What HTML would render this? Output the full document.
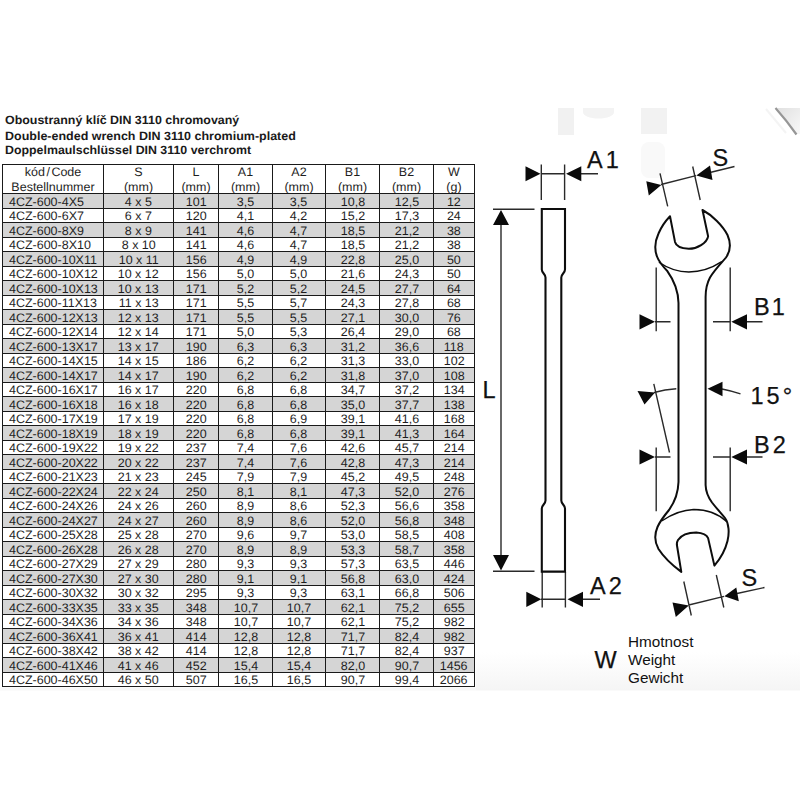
<!DOCTYPE html>
<html lang="cs">
<head>
<meta charset="utf-8">
<title>Oboustranný klíč DIN 3110 chromovaný</title>
<style>
html,body{margin:0;padding:0;background:#fff;}
body{width:800px;height:800px;overflow:hidden;position:relative;font-family:"Liberation Sans",sans-serif;color:#1c1c1c;}
.page{position:absolute;left:0;top:0;width:800px;height:800px;overflow:hidden;background:#fff;}
.diagram{position:absolute;left:0;top:0;width:800px;height:800px;}
.title{position:absolute;left:5px;top:113px;font-weight:bold;font-size:12px;line-height:15px;white-space:nowrap;color:#1a1a1a;text-rendering:geometricPrecision;}
.title div{transform-origin:0 0;transform:scaleX(1.036);height:15px;}
.title div:nth-child(2){transform:scaleX(1.041);position:relative;top:0.6px;}
.title div:nth-child(3){transform:scaleX(1.031);position:relative;top:0.2px;}
table.spec{position:absolute;left:2px;top:164.25px;border-collapse:collapse;table-layout:fixed;width:472px;font-size:12.3px;line-height:13.5px;color:#1e1e1e;text-rendering:geometricPrecision;}
table.spec th,table.spec td{border:1px solid #1a1a1a;padding:0;margin:0;font-weight:normal;text-align:center;white-space:nowrap;overflow:hidden;}
table.spec th{height:28px;vertical-align:top;}
table.spec th span{display:block;line-height:14px;transform:scaleX(1.015);}
table.spec th span:first-child{line-height:15px;}
table.spec th span:last-child{line-height:13px;position:relative;top:1.1px;}
table.spec td{height:13.5px;}
table.spec td span{display:inline-block;transform:scaleX(1.015);position:relative;top:1.5px;}
table.spec td:first-child span{transform-origin:0 50%;}
table.spec tr.g td{background:#d5d5d5;}
table.spec td:first-child{text-align:left;padding-left:6px;}
.c0{width:101px}.c1{width:70px}.c2{width:45px}.c3{width:54px}.c4{width:53px}.c5{width:54px}.c6{width:54px}.c7{width:41px}
table.spec th i{font-style:normal;margin:0 1.5px;}

</style>
</head>
<body>
<div class="page">
<svg class="diagram" width="800" height="800" viewBox="0 0 800 800" font-family="'Liberation Sans', sans-serif" fill="#111">
<defs>
<linearGradient id="fade" x1="0" y1="0" x2="0" y2="1"><stop offset="0" stop-color="#fff"/><stop offset="1" stop-color="#f5f5f5"/></linearGradient>
<linearGradient id="corner" x1="0" y1="0" x2="1" y2="1"><stop offset="0" stop-color="#e0e0e0"/><stop offset="1" stop-color="#f8f8f8"/></linearGradient>
</defs>
<g stroke="none">
<rect x="476" y="652" width="324" height="38.5" fill="url(#fade)"/>
<rect x="0" y="687.5" width="476" height="3" fill="#f8f8f8"/>
<rect x="558" y="108" width="16" height="27" fill="#f1f1f1"/>
<path d="M583,108H614V112C614,116 607,118.5 598.5,118.5C590,118.5 583,116 583,112Z" fill="#f3f3f3"/>
<rect x="641" y="108" width="26" height="26" fill="#f2f2f2"/>
<rect x="641" y="142" width="24" height="36" rx="8" fill="#f9f9f9"/>
<path d="M777,108H800V134H797.5Z" fill="url(#corner)"/>
<path d="M775.5,108Q787,121 796.5,134.5" stroke="#969696" stroke-width="2.2" fill="none" stroke-linecap="butt"/>
<path d="M766,109L786,133" stroke="#f4f4f4" stroke-width="2" fill="none"/>
</g>
<g fill="none" stroke="#2a2a2a" stroke-width="1.4">
<!-- A1 -->
<path d="M541.3,164.5V200 M564.6,164.5V200 M541,173.8H565 M580,173.8H598"/>
<!-- L -->
<path d="M493,209.3H534.5 M493,571.3H534.5 M501,224V556"/>
<!-- A2 -->
<path d="M542.2,572V607.5 M565.4,572V607.5 M541,599.3H566 M582,599.3H600"/>
<!-- S top -->
<path d="M660,173.3L667.7,206.3 M692.7,166.5L700.2,200 M661,184.5L696,175.6 M711,172.2L734.5,166.5"/>
<!-- B1 -->
<path d="M656.2,267.5V331.3 M730.2,267.5V331.3 M655,321.8H670.5 M713,321.8H730 M746,321.8H762.5"/>
<!-- B2 -->
<path d="M656.2,447.5V511.3 M730.2,447.5V511.3 M655,457H670.5 M713,457H730 M746,457H762.5"/>
<!-- 15 deg -->
<path d="M653.8,383.8L669.5,452.5 M654,392.5Q665,389.3 676.3,388.8 M722,389Q732,391 740.5,393.8"/>
<!-- S bottom -->
<path d="M683.8,581.5L691.3,615.5 M716.3,575L723.8,607.5 M688.8,605L724,596.4 M737,593.5L764.5,587.5"/>
</g>
<g fill="#0a0a0a" stroke="none">
<path d="M525.5,166.3V181.3L540.5,173.8Z M581.3,166.3V181.3L566,173.8Z"/>
<path d="M493,225H509L501,210Z M493,555H509L501,570.5Z"/>
<path d="M526.3,591.8V607L541.3,599.3Z M583,591.8V607L567.5,599.3Z"/>
<path d="M646.3,181.3L648.8,195.5L661.3,185Z M710,165.5L712.5,180L696.3,175.5Z"/>
<path d="M639.5,314.3V329.5L655,321.8Z M747,314.3V329.5L731.3,321.8Z"/>
<path d="M639.5,449.4V464.6L655,457Z M747,449.4V464.6L731.3,457Z"/>
<path d="M637.5,391L644.5,404.5L655,392.5Z M722.5,381.8V396.3L707.5,388.8Z"/>
<path d="M672.5,602.5L675.8,617L688.8,605.5Z M736.3,587.5L738.8,601.3L724.3,596.3Z"/>
</g>
<g fill="none" stroke="#0d0d0d" stroke-linejoin="round" stroke-linecap="round">
<!-- side view -->
<path stroke-width="2.1" stroke-linejoin="miter" d="M541.8,209H565V269.5C565,273 561.3,274 561.3,277.5V500.5C561.3,504 565,505 565,508.5V571.6H541.8V508.5C541.8,505 545.5,504 545.5,500.5V277.5C545.5,274 541.8,273 541.8,269.5Z"/>
<!-- front view -->
<path stroke-width="2" d="M670,216.3L675,241.9C676,246 682,248.3 688.8,248.8C697,248.8 707,243 708.1,236.3L702.5,210C712,215 723,226 727.5,235C731,243 730.5,251 726,257.5C723,261.5 716,268 710,277.5C706.5,284 705.6,290 705.6,297V485C705.8,492 708,497 712,502.5C717,509 722,514 725,518C729,523.5 729.5,533 727.5,541C725,551 721,558 714.4,565.6L708.1,538.1C707,535.5 703,533 696.3,532.5C688,532.5 681,535.5 678,540C676.8,542 676.8,544 676.9,545L681.3,571.9C672,565 663,556 658.5,549C654.5,542 654.5,534 657.5,527C660,521.5 664,516 669,510C674,503 678.2,493 678.5,482V303C678.3,293 675.2,282 667.5,271.3C663,266.5 659,262 657,256.5C654,248.5 655.5,240 658.5,233.5C661.5,226.5 666,220.5 670,216.3Z"/>
<path stroke-width="1.5" d="M659.4,262.5C668,268.5 678,271.9 688.8,271.9C701,271.9 712,268 721.3,261.9"/>
<path stroke-width="1.5" d="M662.5,520.5C672,514 682,509.8 693.8,509.4C706,509.4 717,512.5 726.3,521.3"/>
</g>
<g fill="#111" stroke="#111" stroke-width="0.25">
<text x="587" y="168" font-size="23.5" letter-spacing="3">A1</text>
<text x="590" y="593.8" font-size="23.5" letter-spacing="3">A2</text>
<text x="482.5" y="397.5" font-size="23.5">L</text>
<text x="712.5" y="165.5" font-size="23.5">S</text>
<text x="741.5" y="585.5" font-size="23.5">S</text>
<text x="754" y="314.8" font-size="23.5" letter-spacing="2">B1</text>
<text x="754" y="452.5" font-size="23.5" letter-spacing="3">B2</text>
<text x="750.5" y="403.8" font-size="23.5" letter-spacing="3">15°</text>
<text x="594.5" y="668" font-size="23.5">W</text>
<text x="628" y="646.5" font-size="15.3" stroke="none">Hmotnost</text>
<text x="628" y="665.2" font-size="15.3" stroke="none">Weight</text>
<text x="628" y="683.2" font-size="15.3" stroke="none">Gewicht</text>
</g>
</svg>
<div class="title">
<div>Oboustranný klíč DIN 3110 chromovaný</div>
<div>Double-ended wrench DIN 3110 chromium-plated</div>
<div>Doppelmaulschlüssel DIN 3110 verchromt</div>
</div>
<table class="spec">
<colgroup><col class="c0"><col class="c1"><col class="c2"><col class="c3"><col class="c4"><col class="c5"><col class="c6"><col class="c7"></colgroup>
<thead>
<tr><th><span>kód<i>/</i>Code</span><span>Bestellnummer</span></th><th><span>S</span><span>(mm)</span></th><th><span>L</span><span>(mm)</span></th><th><span>A1</span><span>(mm)</span></th><th><span>A2</span><span>(mm)</span></th><th><span>B1</span><span>(mm)</span></th><th><span>B2</span><span>(mm)</span></th><th><span>W</span><span>(g)</span></th></tr>
</thead>
<tbody>
<tr class="g"><td><span>4CZ-600-4X5</span></td><td><span>4 x 5</span></td><td><span>101</span></td><td><span>3,5</span></td><td><span>3,5</span></td><td><span>10,8</span></td><td><span>12,5</span></td><td><span>12</span></td></tr>
<tr class="w"><td><span>4CZ-600-6X7</span></td><td><span>6 x 7</span></td><td><span>120</span></td><td><span>4,1</span></td><td><span>4,2</span></td><td><span>15,2</span></td><td><span>17,3</span></td><td><span>24</span></td></tr>
<tr class="g"><td><span>4CZ-600-8X9</span></td><td><span>8 x 9</span></td><td><span>141</span></td><td><span>4,6</span></td><td><span>4,7</span></td><td><span>18,5</span></td><td><span>21,2</span></td><td><span>38</span></td></tr>
<tr class="w"><td><span>4CZ-600-8X10</span></td><td><span>8 x 10</span></td><td><span>141</span></td><td><span>4,6</span></td><td><span>4,7</span></td><td><span>18,5</span></td><td><span>21,2</span></td><td><span>38</span></td></tr>
<tr class="g"><td><span>4CZ-600-10X11</span></td><td><span>10 x 11</span></td><td><span>156</span></td><td><span>4,9</span></td><td><span>4,9</span></td><td><span>22,8</span></td><td><span>25,0</span></td><td><span>50</span></td></tr>
<tr class="w"><td><span>4CZ-600-10X12</span></td><td><span>10 x 12</span></td><td><span>156</span></td><td><span>5,0</span></td><td><span>5,0</span></td><td><span>21,6</span></td><td><span>24,3</span></td><td><span>50</span></td></tr>
<tr class="g"><td><span>4CZ-600-10X13</span></td><td><span>10 x 13</span></td><td><span>171</span></td><td><span>5,2</span></td><td><span>5,2</span></td><td><span>24,5</span></td><td><span>27,7</span></td><td><span>64</span></td></tr>
<tr class="w"><td><span>4CZ-600-11X13</span></td><td><span>11 x 13</span></td><td><span>171</span></td><td><span>5,5</span></td><td><span>5,7</span></td><td><span>24,3</span></td><td><span>27,8</span></td><td><span>68</span></td></tr>
<tr class="g"><td><span>4CZ-600-12X13</span></td><td><span>12 x 13</span></td><td><span>171</span></td><td><span>5,5</span></td><td><span>5,5</span></td><td><span>27,1</span></td><td><span>30,0</span></td><td><span>76</span></td></tr>
<tr class="w"><td><span>4CZ-600-12X14</span></td><td><span>12 x 14</span></td><td><span>171</span></td><td><span>5,0</span></td><td><span>5,3</span></td><td><span>26,4</span></td><td><span>29,0</span></td><td><span>68</span></td></tr>
<tr class="g"><td><span>4CZ-600-13X17</span></td><td><span>13 x 17</span></td><td><span>190</span></td><td><span>6,3</span></td><td><span>6,3</span></td><td><span>31,2</span></td><td><span>36,6</span></td><td><span>118</span></td></tr>
<tr class="w"><td><span>4CZ-600-14X15</span></td><td><span>14 x 15</span></td><td><span>186</span></td><td><span>6,2</span></td><td><span>6,2</span></td><td><span>31,3</span></td><td><span>33,0</span></td><td><span>102</span></td></tr>
<tr class="g"><td><span>4CZ-600-14X17</span></td><td><span>14 x 17</span></td><td><span>190</span></td><td><span>6,2</span></td><td><span>6,2</span></td><td><span>31,8</span></td><td><span>37,0</span></td><td><span>108</span></td></tr>
<tr class="w"><td><span>4CZ-600-16X17</span></td><td><span>16 x 17</span></td><td><span>220</span></td><td><span>6,8</span></td><td><span>6,8</span></td><td><span>34,7</span></td><td><span>37,2</span></td><td><span>134</span></td></tr>
<tr class="g"><td><span>4CZ-600-16X18</span></td><td><span>16 x 18</span></td><td><span>220</span></td><td><span>6,8</span></td><td><span>6,8</span></td><td><span>35,0</span></td><td><span>37,7</span></td><td><span>138</span></td></tr>
<tr class="w"><td><span>4CZ-600-17X19</span></td><td><span>17 x 19</span></td><td><span>220</span></td><td><span>6,8</span></td><td><span>6,9</span></td><td><span>39,1</span></td><td><span>41,6</span></td><td><span>168</span></td></tr>
<tr class="g"><td><span>4CZ-600-18X19</span></td><td><span>18 x 19</span></td><td><span>220</span></td><td><span>6,8</span></td><td><span>6,8</span></td><td><span>39,1</span></td><td><span>41,3</span></td><td><span>164</span></td></tr>
<tr class="w"><td><span>4CZ-600-19X22</span></td><td><span>19 x 22</span></td><td><span>237</span></td><td><span>7,4</span></td><td><span>7,6</span></td><td><span>42,6</span></td><td><span>45,7</span></td><td><span>214</span></td></tr>
<tr class="g"><td><span>4CZ-600-20X22</span></td><td><span>20 x 22</span></td><td><span>237</span></td><td><span>7,4</span></td><td><span>7,6</span></td><td><span>42,8</span></td><td><span>47,3</span></td><td><span>214</span></td></tr>
<tr class="w"><td><span>4CZ-600-21X23</span></td><td><span>21 x 23</span></td><td><span>245</span></td><td><span>7,9</span></td><td><span>7,9</span></td><td><span>45,2</span></td><td><span>49,5</span></td><td><span>248</span></td></tr>
<tr class="g"><td><span>4CZ-600-22X24</span></td><td><span>22 x 24</span></td><td><span>250</span></td><td><span>8,1</span></td><td><span>8,1</span></td><td><span>47,3</span></td><td><span>52,0</span></td><td><span>276</span></td></tr>
<tr class="w"><td><span>4CZ-600-24X26</span></td><td><span>24 x 26</span></td><td><span>260</span></td><td><span>8,9</span></td><td><span>8,6</span></td><td><span>52,3</span></td><td><span>56,6</span></td><td><span>358</span></td></tr>
<tr class="g"><td><span>4CZ-600-24X27</span></td><td><span>24 x 27</span></td><td><span>260</span></td><td><span>8,9</span></td><td><span>8,6</span></td><td><span>52,0</span></td><td><span>56,8</span></td><td><span>348</span></td></tr>
<tr class="w"><td><span>4CZ-600-25X28</span></td><td><span>25 x 28</span></td><td><span>270</span></td><td><span>9,6</span></td><td><span>9,7</span></td><td><span>53,0</span></td><td><span>58,5</span></td><td><span>408</span></td></tr>
<tr class="g"><td><span>4CZ-600-26X28</span></td><td><span>26 x 28</span></td><td><span>270</span></td><td><span>8,9</span></td><td><span>8,9</span></td><td><span>53,3</span></td><td><span>58,7</span></td><td><span>358</span></td></tr>
<tr class="w"><td><span>4CZ-600-27X29</span></td><td><span>27 x 29</span></td><td><span>280</span></td><td><span>9,3</span></td><td><span>9,3</span></td><td><span>57,3</span></td><td><span>63,5</span></td><td><span>446</span></td></tr>
<tr class="g"><td><span>4CZ-600-27X30</span></td><td><span>27 x 30</span></td><td><span>280</span></td><td><span>9,1</span></td><td><span>9,1</span></td><td><span>56,8</span></td><td><span>63,0</span></td><td><span>424</span></td></tr>
<tr class="w"><td><span>4CZ-600-30X32</span></td><td><span>30 x 32</span></td><td><span>295</span></td><td><span>9,3</span></td><td><span>9,3</span></td><td><span>63,1</span></td><td><span>66,8</span></td><td><span>506</span></td></tr>
<tr class="g"><td><span>4CZ-600-33X35</span></td><td><span>33 x 35</span></td><td><span>348</span></td><td><span>10,7</span></td><td><span>10,7</span></td><td><span>62,1</span></td><td><span>75,2</span></td><td><span>655</span></td></tr>
<tr class="w"><td><span>4CZ-600-34X36</span></td><td><span>34 x 36</span></td><td><span>348</span></td><td><span>10,7</span></td><td><span>10,7</span></td><td><span>62,1</span></td><td><span>75,2</span></td><td><span>982</span></td></tr>
<tr class="g"><td><span>4CZ-600-36X41</span></td><td><span>36 x 41</span></td><td><span>414</span></td><td><span>12,8</span></td><td><span>12,8</span></td><td><span>71,7</span></td><td><span>82,4</span></td><td><span>982</span></td></tr>
<tr class="w"><td><span>4CZ-600-38X42</span></td><td><span>38 x 42</span></td><td><span>414</span></td><td><span>12,8</span></td><td><span>12,8</span></td><td><span>71,7</span></td><td><span>82,4</span></td><td><span>937</span></td></tr>
<tr class="g"><td><span>4CZ-600-41X46</span></td><td><span>41 x 46</span></td><td><span>452</span></td><td><span>15,4</span></td><td><span>15,4</span></td><td><span>82,0</span></td><td><span>90,7</span></td><td><span>1456</span></td></tr>
<tr class="w"><td><span>4CZ-600-46X50</span></td><td><span>46 x 50</span></td><td><span>507</span></td><td><span>16,5</span></td><td><span>16,5</span></td><td><span>90,7</span></td><td><span>99,4</span></td><td><span>2066</span></td></tr>
</tbody>
</table>
</div>
</body>
</html>
